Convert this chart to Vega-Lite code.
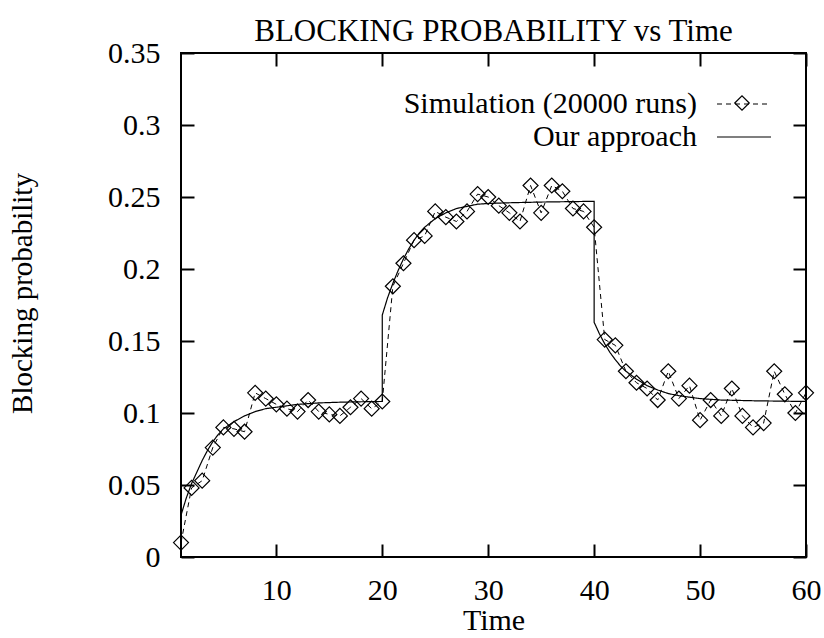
{
  "$schema": "https://vega.github.io/schema/vega-lite/v6.json",
  "width": 625,
  "height": 504,
  "autosize": "none",
  "padding": {"left": 181, "top": 53, "right": 18, "bottom": 81},
  "background": "white",
  "config": {
    "view": {"stroke": "black", "strokeWidth": 2},
    "font": "Liberation Serif"
  },
  "datasets": {
    "simulation": [
      {"t": 1, "p": 0.010, "series": "Simulation (20000 runs)"},
      {"t": 2, "p": 0.048, "series": "Simulation (20000 runs)"},
      {"t": 3, "p": 0.053, "series": "Simulation (20000 runs)"},
      {"t": 4, "p": 0.076, "series": "Simulation (20000 runs)"},
      {"t": 5, "p": 0.090, "series": "Simulation (20000 runs)"},
      {"t": 6, "p": 0.089, "series": "Simulation (20000 runs)"},
      {"t": 7, "p": 0.087, "series": "Simulation (20000 runs)"},
      {"t": 8, "p": 0.114, "series": "Simulation (20000 runs)"},
      {"t": 9, "p": 0.110, "series": "Simulation (20000 runs)"},
      {"t": 10, "p": 0.106, "series": "Simulation (20000 runs)"},
      {"t": 11, "p": 0.103, "series": "Simulation (20000 runs)"},
      {"t": 12, "p": 0.101, "series": "Simulation (20000 runs)"},
      {"t": 13, "p": 0.109, "series": "Simulation (20000 runs)"},
      {"t": 14, "p": 0.101, "series": "Simulation (20000 runs)"},
      {"t": 15, "p": 0.099, "series": "Simulation (20000 runs)"},
      {"t": 16, "p": 0.098, "series": "Simulation (20000 runs)"},
      {"t": 17, "p": 0.104, "series": "Simulation (20000 runs)"},
      {"t": 18, "p": 0.110, "series": "Simulation (20000 runs)"},
      {"t": 19, "p": 0.103, "series": "Simulation (20000 runs)"},
      {"t": 20, "p": 0.108, "series": "Simulation (20000 runs)"},
      {"t": 21, "p": 0.188, "series": "Simulation (20000 runs)"},
      {"t": 22, "p": 0.204, "series": "Simulation (20000 runs)"},
      {"t": 23, "p": 0.220, "series": "Simulation (20000 runs)"},
      {"t": 24, "p": 0.223, "series": "Simulation (20000 runs)"},
      {"t": 25, "p": 0.240, "series": "Simulation (20000 runs)"},
      {"t": 26, "p": 0.236, "series": "Simulation (20000 runs)"},
      {"t": 27, "p": 0.233, "series": "Simulation (20000 runs)"},
      {"t": 28, "p": 0.240, "series": "Simulation (20000 runs)"},
      {"t": 29, "p": 0.252, "series": "Simulation (20000 runs)"},
      {"t": 30, "p": 0.250, "series": "Simulation (20000 runs)"},
      {"t": 31, "p": 0.244, "series": "Simulation (20000 runs)"},
      {"t": 32, "p": 0.239, "series": "Simulation (20000 runs)"},
      {"t": 33, "p": 0.233, "series": "Simulation (20000 runs)"},
      {"t": 34, "p": 0.258, "series": "Simulation (20000 runs)"},
      {"t": 35, "p": 0.239, "series": "Simulation (20000 runs)"},
      {"t": 36, "p": 0.258, "series": "Simulation (20000 runs)"},
      {"t": 37, "p": 0.254, "series": "Simulation (20000 runs)"},
      {"t": 38, "p": 0.242, "series": "Simulation (20000 runs)"},
      {"t": 39, "p": 0.240, "series": "Simulation (20000 runs)"},
      {"t": 40, "p": 0.229, "series": "Simulation (20000 runs)"},
      {"t": 41, "p": 0.151, "series": "Simulation (20000 runs)"},
      {"t": 42, "p": 0.147, "series": "Simulation (20000 runs)"},
      {"t": 43, "p": 0.129, "series": "Simulation (20000 runs)"},
      {"t": 44, "p": 0.121, "series": "Simulation (20000 runs)"},
      {"t": 45, "p": 0.117, "series": "Simulation (20000 runs)"},
      {"t": 46, "p": 0.109, "series": "Simulation (20000 runs)"},
      {"t": 47, "p": 0.129, "series": "Simulation (20000 runs)"},
      {"t": 48, "p": 0.110, "series": "Simulation (20000 runs)"},
      {"t": 49, "p": 0.119, "series": "Simulation (20000 runs)"},
      {"t": 50, "p": 0.095, "series": "Simulation (20000 runs)"},
      {"t": 51, "p": 0.109, "series": "Simulation (20000 runs)"},
      {"t": 52, "p": 0.098, "series": "Simulation (20000 runs)"},
      {"t": 53, "p": 0.117, "series": "Simulation (20000 runs)"},
      {"t": 54, "p": 0.098, "series": "Simulation (20000 runs)"},
      {"t": 55, "p": 0.090, "series": "Simulation (20000 runs)"},
      {"t": 56, "p": 0.093, "series": "Simulation (20000 runs)"},
      {"t": 57, "p": 0.129, "series": "Simulation (20000 runs)"},
      {"t": 58, "p": 0.113, "series": "Simulation (20000 runs)"},
      {"t": 59, "p": 0.100, "series": "Simulation (20000 runs)"},
      {"t": 60, "p": 0.114, "series": "Simulation (20000 runs)"}
    ],
    "model": [
      {"i": 1, "t": 1, "p": 0.029, "series": "Our approach"},
      {"i": 2, "t": 1.5, "p": 0.041, "series": "Our approach"},
      {"i": 3, "t": 2, "p": 0.051, "series": "Our approach"},
      {"i": 4, "t": 2.5, "p": 0.059, "series": "Our approach"},
      {"i": 5, "t": 3, "p": 0.067, "series": "Our approach"},
      {"i": 6, "t": 3.5, "p": 0.074, "series": "Our approach"},
      {"i": 7, "t": 4, "p": 0.080, "series": "Our approach"},
      {"i": 8, "t": 4.5, "p": 0.085, "series": "Our approach"},
      {"i": 9, "t": 5, "p": 0.089, "series": "Our approach"},
      {"i": 10, "t": 6, "p": 0.094, "series": "Our approach"},
      {"i": 11, "t": 7, "p": 0.098, "series": "Our approach"},
      {"i": 12, "t": 8, "p": 0.101, "series": "Our approach"},
      {"i": 13, "t": 9, "p": 0.103, "series": "Our approach"},
      {"i": 14, "t": 10, "p": 0.104, "series": "Our approach"},
      {"i": 15, "t": 11, "p": 0.105, "series": "Our approach"},
      {"i": 16, "t": 12, "p": 0.106, "series": "Our approach"},
      {"i": 17, "t": 13, "p": 0.1065, "series": "Our approach"},
      {"i": 18, "t": 14, "p": 0.107, "series": "Our approach"},
      {"i": 19, "t": 16, "p": 0.1075, "series": "Our approach"},
      {"i": 20, "t": 18, "p": 0.1078, "series": "Our approach"},
      {"i": 21, "t": 20, "p": 0.108, "series": "Our approach"},
      {"i": 22, "t": 20, "p": 0.168, "series": "Our approach"},
      {"i": 23, "t": 20.5, "p": 0.180, "series": "Our approach"},
      {"i": 24, "t": 21, "p": 0.190, "series": "Our approach"},
      {"i": 25, "t": 21.5, "p": 0.199, "series": "Our approach"},
      {"i": 26, "t": 22, "p": 0.207, "series": "Our approach"},
      {"i": 27, "t": 22.5, "p": 0.214, "series": "Our approach"},
      {"i": 28, "t": 23, "p": 0.220, "series": "Our approach"},
      {"i": 29, "t": 23.5, "p": 0.225, "series": "Our approach"},
      {"i": 30, "t": 24, "p": 0.229, "series": "Our approach"},
      {"i": 31, "t": 25, "p": 0.235, "series": "Our approach"},
      {"i": 32, "t": 26, "p": 0.239, "series": "Our approach"},
      {"i": 33, "t": 27, "p": 0.242, "series": "Our approach"},
      {"i": 34, "t": 28, "p": 0.2435, "series": "Our approach"},
      {"i": 35, "t": 29, "p": 0.245, "series": "Our approach"},
      {"i": 36, "t": 30, "p": 0.2455, "series": "Our approach"},
      {"i": 37, "t": 32, "p": 0.246, "series": "Our approach"},
      {"i": 38, "t": 35, "p": 0.2465, "series": "Our approach"},
      {"i": 39, "t": 40, "p": 0.247, "series": "Our approach"},
      {"i": 40, "t": 40, "p": 0.163, "series": "Our approach"},
      {"i": 41, "t": 40.5, "p": 0.155, "series": "Our approach"},
      {"i": 42, "t": 41, "p": 0.148, "series": "Our approach"},
      {"i": 43, "t": 41.5, "p": 0.142, "series": "Our approach"},
      {"i": 44, "t": 42, "p": 0.137, "series": "Our approach"},
      {"i": 45, "t": 42.5, "p": 0.1325, "series": "Our approach"},
      {"i": 46, "t": 43, "p": 0.129, "series": "Our approach"},
      {"i": 47, "t": 44, "p": 0.1235, "series": "Our approach"},
      {"i": 48, "t": 45, "p": 0.119, "series": "Our approach"},
      {"i": 49, "t": 46, "p": 0.116, "series": "Our approach"},
      {"i": 50, "t": 47, "p": 0.1135, "series": "Our approach"},
      {"i": 51, "t": 48, "p": 0.112, "series": "Our approach"},
      {"i": 52, "t": 49, "p": 0.111, "series": "Our approach"},
      {"i": 53, "t": 50, "p": 0.110, "series": "Our approach"},
      {"i": 54, "t": 52, "p": 0.109, "series": "Our approach"},
      {"i": 55, "t": 55, "p": 0.1085, "series": "Our approach"},
      {"i": 56, "t": 60, "p": 0.108, "series": "Our approach"}
    ]
  },
  "layer": [
    {
      "data": {"name": "model"},
      "mark": {"type": "line", "color": "black", "strokeWidth": 1.2},
      "encoding": {
        "x": {
          "field": "t", "type": "quantitative",
          "scale": {"domain": [1, 60], "nice": false, "zero": false},
          "axis": {
            "orient": "bottom", "values": [10, 20, 30, 40, 50, 60],
            "grid": false, "domain": false,
            "tickSize": -13, "tickWidth": 2, "tickColor": "black",
            "labelFont": "Liberation Serif", "labelFontSize": 30, "labelColor": "black",
            "labelBaseline": "alphabetic", "labelPadding": 55, "labelFlush": false, "labelOverlap": false,
            "title": "Time", "titleFont": "Liberation Serif", "titleFontSize": 30,
            "titleFontWeight": "normal", "titleColor": "black",
            "titleBaseline": "alphabetic", "titleY": 72
          }
        },
        "y": {
          "field": "p", "type": "quantitative",
          "scale": {"domain": [0, 0.35], "nice": false, "zero": true},
          "axis": {
            "orient": "left", "values": [0, 0.05, 0.1, 0.15, 0.2, 0.25, 0.3, 0.35],
            "format": "~g", "grid": false, "domain": false,
            "tickSize": -13, "tickWidth": 2, "tickColor": "black",
            "labelFont": "Liberation Serif", "labelFontSize": 30, "labelColor": "black",
            "labelPadding": 34, "labelOverlap": false, "labelFlush": false,
            "title": "Blocking probability", "titleFont": "Liberation Serif", "titleFontSize": 29,
            "titleFontWeight": "normal", "titleColor": "black",
            "titleAngle": -90, "titleAlign": "center", "titleBaseline": "middle",
            "titleX": -159, "titleY": 240
          }
        },
        "order": {"field": "i", "type": "quantitative"},
        "strokeDash": {
          "field": "series", "type": "nominal",
          "scale": {"domain": ["Simulation (20000 runs)", "Our approach"], "range": [[5, 4], [1, 0]]},
          "legend": {
            "orient": "none", "legendX": 465, "legendY": 36, "title": null,
            "padding": 0, "labelAlign": "right", "labelOffset": -62, "symbolOffset": 83,
            "symbolType": "M-2,0H2", "symbolSize": 729, "symbolStrokeWidth": 1.2, "symbolStrokeColor": "black",
            "labelFont": "Liberation Serif", "labelFontSize": 30, "labelColor": "black",
            "labelLimit": 0, "rowPadding": 3
          }
        }
      }
    },
    {
      "data": {"name": "simulation"},
      "mark": {"type": "line", "color": "black", "strokeWidth": 1},
      "encoding": {
        "x": {"field": "t", "type": "quantitative", "axis": null},
        "y": {"field": "p", "type": "quantitative", "axis": null},
        "order": {"field": "t", "type": "quantitative"},
        "strokeDash": {"field": "series", "type": "nominal"}
      }
    },
    {
      "data": {"name": "simulation"},
      "mark": {"type": "point", "color": "black", "filled": false, "size": 225, "strokeWidth": 1.2, "opacity": 1},
      "encoding": {
        "x": {
          "field": "t", "type": "quantitative",
          "axis": {
            "orient": "top", "values": [10, 20, 30, 40, 50, 60], "grid": false, "domain": false,
            "tickSize": -13, "tickWidth": 2, "tickColor": "black", "labels": false,
            "title": "BLOCKING PROBABILITY vs Time", "titleFont": "Liberation Serif", "titleFontSize": 31,
            "titleFontWeight": "normal", "titleColor": "black", "titleAlign": "center",
            "titleBaseline": "alphabetic", "titleX": 312, "titleY": -13
          }
        },
        "y": {
          "field": "p", "type": "quantitative",
          "axis": {
            "orient": "right", "values": [0, 0.05, 0.1, 0.15, 0.2, 0.25, 0.3, 0.35], "grid": false, "domain": false,
            "tickSize": -13, "tickWidth": 2, "tickColor": "black", "labels": false, "title": null
          }
        },
        "shape": {
          "field": "series", "type": "nominal",
          "scale": {"domain": ["Simulation (20000 runs)"], "range": ["diamond"]},
          "legend": {
            "orient": "none", "legendX": 553, "legendY": 42, "title": null, "padding": 0,
            "labelExpr": "''", "labelFontSize": 1, "symbolSize": 210, "symbolStrokeWidth": 1.2,
            "symbolStrokeColor": "black", "symbolFillColor": "transparent"
          }
        }
      }
    }
  ],
  "resolve": {"axis": {"x": "independent", "y": "independent"}}
}
